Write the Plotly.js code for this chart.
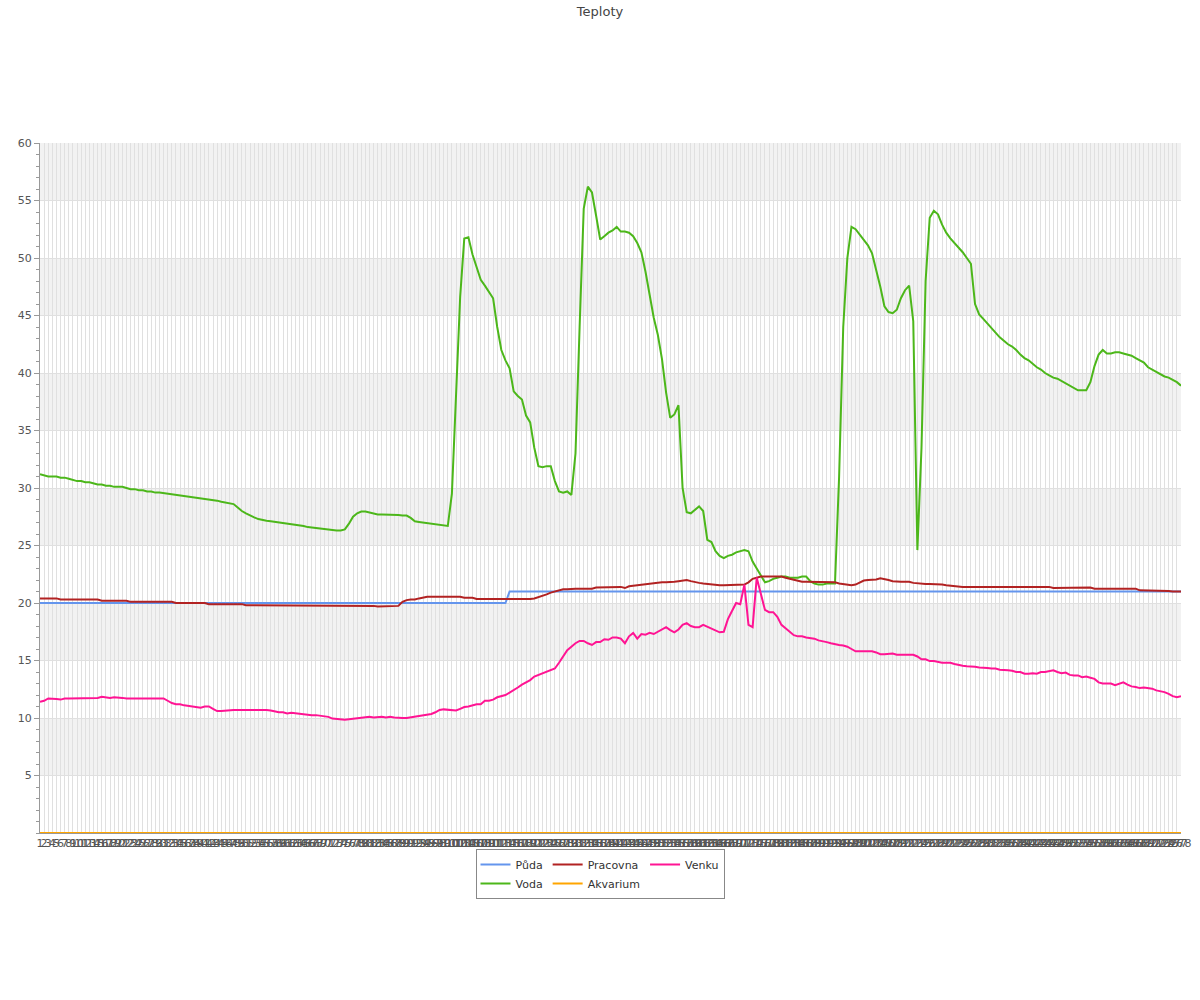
<!DOCTYPE html>
<html>
<head>
<meta charset="utf-8">
<script src="https://cdn.plot.ly/plotly-3.0.1.min.js"></script>
<style>html,body{margin:0;padding:0;background:#fff;}#chart{width:1200px;height:1000px;}</style>
</head>
<body>
<div id="chart"></div>
<script>
const chartTitle = 'Teploty';
const seriesNames = ['Půda', 'Voda', 'Pracovna', 'Akvarium', 'Venku'];
const seriesColors = ['#6495ED', '#4CB71A', '#B22222', '#FFA500', '#FF1493'];

const hours = [
1,2,3,4,5,6,7,8,9,10,11,12,13,14,15,16,17,18,19,20,21,22,23,24,25,26,27,28,29,30,
31,32,33,34,35,36,37,38,39,40,41,42,43,44,45,46,47,48,49,50,51,52,53,54,55,56,57,58,59,60,
61,62,63,64,65,66,67,68,69,70,71,72,73,74,75,76,77,78,79,80,81,82,83,84,85,86,87,88,89,90,
91,92,93,94,95,96,97,98,99,100,101,102,103,104,105,106,107,108,109,110,111,112,113,114,115,116,117,118,119,120,
121,122,123,124,125,126,127,128,129,130,131,132,133,134,135,136,137,138,139,140,141,142,143,144,145,146,147,148,149,150,
151,152,153,154,155,156,157,158,159,160,161,162,163,164,165,166,167,168,169,170,171,172,173,174,175,176,177,178,179,180,
181,182,183,184,185,186,187,188,189,190,191,192,193,194,195,196,197,198,199,200,201,202,203,204,205,206,207,208,209,210,
211,212,213,214,215,216,217,218,219,220,221,222,223,224,225,226,227,228,229,230,231,232,233,234,235,236,237,238,239,240,
241,242,243,244,245,246,247,248,249,250,251,252,253,254,255,256,257,258,259,260,261,262,263,264,265,266,267,268,269,270,
271,272,273,274,275,276,277,278];

const puda = [
20,20,20,20,20,20,20,20,20,20,20,20,20,20,20,20,20,20,20,20,20,20,20,20,20,20,20,20,20,20,
20,20,20,20,20,20,20,20,20,20,20,20,20,20,20,20,20,20,20,20,20,20,20,20,20,20,20,20,20,20,
20,20,20,20,20,20,20,20,20,20,20,20,20,20,20,20,20,20,20,20,20,20,20,20,20,20,20,20,20,20,
20,20,20,20,20,20,20,20,20,20,20,20,20,20,20,20,20,20,20,20,20,20,20,20,
21,21,21,21,21,21,21,21,21,21,21,21,21,21,21,21,21,21,21,21,21,21,21,21,21,21,21,21,21,21,
21,21,21,21,21,21,21,21,21,21,21,21,21,21,21,21,21,21,21,21,21,21,21,21,21,21,21,21,21,21,
21,21,21,21,21,21,21,21,21,21,21,21,21,21,21,21,21,21,21,21,21,21,21,21,21,21,21,21,21,21,
21,21,21,21,21,21,21,21,21,21,21,21,21,21,21,21,21,21,21,21,21,21,21,21,21,21,21,21,21,21,
21,21,21,21,21,21,21,21,21,21,21,21,21,21,21,21,21,21,21,21,21,21,21,21,21,21,21,21,21,21,
21,21,21,21,21,21,21,21,21,21,21,21,21,21];

const voda = [
31.2,31.1,31.0,31.0,31.0,30.9,30.9,30.8,30.7,30.6,
30.6,30.5,30.5,30.4,30.3,30.3,30.2,30.2,30.1,30.1,
30.1,30.0,29.9,29.9,29.8,29.8,29.7,29.7,29.6,29.6,
29.55,29.5,29.45,29.4,29.35,29.3,29.3,29.2,29.2,29.1,
29.05,29.0,28.95,28.9,28.8,28.75,28.7,28.6,28.3,28.0,
27.8,27.6,27.45,27.3,27.2,27.15,27.1,27.05,27.0,27.0,
26.95,26.9,26.85,26.8,26.7,26.6,26.55,26.5,26.5,26.45,
26.4,26.35,26.3,26.3,26.4,26.9,27.5,27.8,27.95,27.95,
27.85,27.75,27.7,27.7,27.7,27.7,27.7,27.65,27.6,27.6,
27.4,27.1,27.05,27.0,27.0,26.9,26.9,26.8,26.8,26.7,
29.5,38.0,46.6,51.7,51.8,50.3,49.2,48.1,47.6,47.1,
46.5,44.0,42.0,41.1,40.4,38.4,38.0,37.7,36.3,35.7,
33.5,31.9,31.8,31.9,31.9,30.6,29.7,29.6,29.7,29.4,
33.0,44.0,54.3,56.2,55.7,53.7,51.6,51.9,52.2,52.4,
52.7,52.3,52.3,52.2,51.9,51.3,50.5,48.8,46.8,44.8,
43.3,41.2,38.3,36.1,36.4,37.2,30.0,27.9,27.8,28.1,
28.4,28.0,25.5,25.3,24.5,24.1,23.9,24.1,24.2,24.4,
24.5,24.6,24.5,23.6,23.0,22.4,21.8,21.9,22.1,22.2,
22.3,22.3,22.2,22.2,22.2,22.3,22.3,21.9,21.7,21.6,
21.6,21.7,21.7,21.7,31.0,44.0,50.0,52.7,52.5,52.0,
51.5,51.1,50.4,49.0,47.5,45.8,45.3,45.2,45.5,46.5,
47.2,47.6,44.5,24.6,33.5,48.0,53.5,54.1,53.8,52.9,
52.2,51.7,51.3,50.9,50.5,50.0,49.5,46.0,45.1,44.7,
44.3,43.9,43.5,43.1,42.8,42.5,42.3,42.0,41.6,41.3,
41.1,40.8,40.5,40.3,40.0,39.8,39.6,39.5,39.3,39.1,
38.9,38.7,38.5,38.5,38.5,39.2,40.6,41.6,42.0,41.7,
41.7,41.8,41.8,41.7,41.6,41.5,41.3,41.1,40.9,40.5,
40.3,40.1,39.9,39.7,39.6,39.4,39.2,38.9];

const pracovna = [
20.4,20.4,20.4,20.4,20.4,20.3,20.3,20.3,20.3,20.3,
20.3,20.3,20.3,20.3,20.3,20.2,20.2,20.2,20.2,20.2,
20.2,20.2,20.1,20.1,20.1,20.1,20.1,20.1,20.1,20.1,
20.1,20.1,20.1,20.0,20.0,20.0,20.0,20.0,20.0,20.0,
20.0,19.9,19.9,19.9,19.9,19.9,19.9,19.9,19.9,19.9,
19.8,19.8,19.8,19.8,19.8,19.8,19.8,19.8,19.8,19.8,
19.8,19.8,19.8,19.8,19.8,19.8,19.8,19.8,19.8,19.8,
19.8,19.75,19.75,19.75,19.75,19.75,19.75,19.75,19.75,19.75,
19.75,19.75,19.7,19.7,19.7,19.7,19.7,19.75,20.1,20.25,
20.3,20.3,20.4,20.5,20.55,20.55,20.55,20.55,20.55,20.55,
20.55,20.55,20.55,20.45,20.45,20.45,20.35,20.35,20.3,20.3,
20.3,20.3,20.3,20.3,20.3,20.3,20.3,20.3,20.3,20.35,
20.4,20.5,20.6,20.75,20.9,21.0,21.05,21.2,21.2,21.25,
21.25,21.25,21.25,21.25,21.25,21.35,21.35,21.35,21.35,21.35,
21.35,21.4,21.3,21.45,21.5,21.55,21.6,21.6,21.65,21.7,
21.75,21.8,21.8,21.8,21.85,21.9,21.95,22.0,21.9,21.8,
21.75,21.7,21.65,21.6,21.55,21.55,21.55,21.55,21.55,21.55,
21.6,21.6,21.8,22.1,22.2,22.3,22.3,22.3,22.3,22.3,
22.3,22.2,22.1,22.0,21.9,21.85,21.85,21.85,21.85,21.85,
21.85,21.85,21.85,21.8,21.7,21.65,21.6,21.55,21.6,21.8,
21.95,22.0,22.0,22.05,22.15,22.1,22.0,21.9,21.85,21.85,
21.85,21.85,21.75,21.7,21.65,21.65,21.65,21.65,21.65,21.6,
21.55,21.5,21.5,21.45,21.4,21.4,21.4,21.4,21.4,21.4,
21.4,21.4,21.4,21.4,21.4,21.4,21.4,21.4,21.4,21.4,
21.4,21.4,21.4,21.4,21.4,21.4,21.3,21.3,21.3,21.3,
21.3,21.3,21.3,21.35,21.35,21.35,21.25,21.25,21.25,21.25,
21.25,21.25,21.25,21.25,21.25,21.25,21.25,21.1,21.1,21.1,
21.1,21.1,21.05,21.05,21.05,21.0,21.0,21.0];

const akvarium = [
0,0,0,0,0,0,0,0,0,0,0,0,0,0,0,0,0,0,0,0,0,0,0,0,0,0,0,0,0,0,
0,0,0,0,0,0,0,0,0,0,0,0,0,0,0,0,0,0,0,0,0,0,0,0,0,0,0,0,0,0,
0,0,0,0,0,0,0,0,0,0,0,0,0,0,0,0,0,0,0,0,0,0,0,0,0,0,0,0,0,0,
0,0,0,0,0,0,0,0,0,0,0,0,0,0,0,0,0,0,0,0,0,0,0,0,0,0,0,0,0,0,
0,0,0,0,0,0,0,0,0,0,0,0,0,0,0,0,0,0,0,0,0,0,0,0,0,0,0,0,0,0,
0,0,0,0,0,0,0,0,0,0,0,0,0,0,0,0,0,0,0,0,0,0,0,0,0,0,0,0,0,0,
0,0,0,0,0,0,0,0,0,0,0,0,0,0,0,0,0,0,0,0,0,0,0,0,0,0,0,0,0,0,
0,0,0,0,0,0,0,0,0,0,0,0,0,0,0,0,0,0,0,0,0,0,0,0,0,0,0,0,0,0,
0,0,0,0,0,0,0,0,0,0,0,0,0,0,0,0,0,0,0,0,0,0,0,0,0,0,0,0,0,0,
0,0,0,0,0,0,0,0];

const venku = [
11.4,11.5,11.7,11.7,11.65,11.6,11.7,11.7,11.7,11.7,
11.7,11.7,11.7,11.7,11.75,11.85,11.8,11.75,11.8,11.8,
11.75,11.7,11.7,11.75,11.75,11.7,11.7,11.7,11.7,11.7,
11.7,11.5,11.3,11.2,11.2,11.1,11.05,11.0,10.95,10.9,
11.0,11.0,10.8,10.6,10.6,10.65,10.7,10.7,10.7,10.7,
10.7,10.75,10.7,10.7,10.7,10.7,10.65,10.55,10.5,10.5,
10.4,10.45,10.4,10.35,10.35,10.3,10.25,10.25,10.2,10.15,
10.1,9.95,9.9,9.85,9.85,9.9,9.95,10.0,10.0,10.05,
10.1,10.05,10.1,10.1,10.05,10.1,10.05,10.0,10.0,10.0,
10.05,10.1,10.15,10.2,10.3,10.35,10.5,10.7,10.75,10.7,
10.7,10.65,10.8,10.95,11.0,11.1,11.2,11.2,11.5,11.5,
11.6,11.8,11.9,12.0,12.2,12.4,12.65,12.9,13.1,13.3,
13.6,13.75,13.9,14.0,14.2,14.3,14.8,15.4,15.9,16.2,
16.5,16.7,16.7,16.5,16.35,16.6,16.6,16.85,16.8,17.0,
17.0,16.9,16.5,17.1,17.4,16.9,17.3,17.25,17.4,17.3,
17.5,17.75,17.9,17.65,17.45,17.7,18.1,18.25,18.0,17.9,
17.9,18.1,17.95,17.75,17.65,17.45,17.5,18.6,19.3,20.0,
19.9,21.6,18.1,17.9,22.2,20.8,19.4,19.2,19.2,18.8,
18.1,17.8,17.5,17.2,17.1,17.1,17.0,16.95,16.9,16.75,
16.7,16.6,16.5,16.4,16.35,16.3,16.2,16.0,15.8,15.8,
15.8,15.8,15.8,15.7,15.55,15.55,15.6,15.6,15.5,15.5,
15.5,15.5,15.5,15.35,15.1,15.1,14.95,14.95,14.85,14.8,
14.8,14.8,14.7,14.6,14.55,14.5,14.5,14.45,14.4,14.4,
14.35,14.3,14.3,14.2,14.2,14.15,14.1,14.0,14.0,13.85,
13.85,13.9,13.85,14.0,14.0,14.1,14.15,14.0,13.9,13.95,
13.75,13.7,13.7,13.55,13.6,13.5,13.4,13.1,13.0,13.0,
13.0,12.85,13.0,13.1,12.9,12.75,12.7,12.6,12.65,12.6,
12.55,12.4,12.35,12.25,12.1,11.9,11.8,11.9];

const yTickVals = [5,10,15,20,25,30,35,40,45,50,55,60];
const bandStarts = [5,15,25,35,45,55];

const seriesData = [puda, voda, pracovna, akvarium, venku];
const groups = ['g1','g1','g2','g2','g3'];

const traces = seriesData.map((vals, k) => ({
  type: 'scatter',
  mode: 'lines',
  x: hours,
  y: vals,
  name: seriesNames[k],
  legendgroup: groups[k],
  line: {color: seriesColors[k], width: 2},
  hoverinfo: 'skip'
}));

const shapes = bandStarts.map(b => ({
  type: 'rect', layer: 'below', xref: 'paper', yref: 'y',
  x0: 0, x1: 1, y0: b, y1: b + 5,
  fillcolor: '#f2f2f2', line: {width: 0}
}));

const layout = {
  width: 1200, height: 1000,
  paper_bgcolor: '#ffffff', plot_bgcolor: '#ffffff',
  margin: {l: 40, r: 19, t: 143, b: 167, pad: 0},
  font: {family: 'DejaVu Sans, sans-serif', size: 11, color: '#555'},
  title: {text: chartTitle, font: {family: 'DejaVu Sans, sans-serif', size: 13, color: '#444'},
          x: 0.5, xref: 'container', xanchor: 'center', y: 0.989, yref: 'container', yanchor: 'middle'},
  xaxis: {
    type: 'linear', range: [1, hours.length], tickmode: 'linear', tick0: 1, dtick: 1,
    tickangle: 0, showgrid: true, gridcolor: '#e0e0e0', gridwidth: 1,
    zeroline: false, showline: true, linecolor: '#999', ticks: '',
    tickfont: {size: 11, color: '#555'}, automargin: false, fixedrange: true, layer: 'below traces'
  },
  yaxis: {
    range: [0, 60], tickmode: 'array', tickvals: yTickVals,
    showgrid: true, gridcolor: '#e0e0e0', gridwidth: 1, zeroline: false,
    showline: true, linecolor: '#999', ticks: 'outside', ticklen: 5, tickcolor: '#999',
    minor: {tick0: 0, dtick: 1, ticks: 'outside', ticklen: 3, tickcolor: '#999', showgrid: false},
    tickfont: {size: 11, color: '#555'}, automargin: false, fixedrange: true, layer: 'below traces'
  },
  showlegend: true,
  legend: {
    orientation: 'h', traceorder: 'grouped',
    xref: 'container', x: 0.5, xanchor: 'center',
    yref: 'container', y: 0.151, yanchor: 'top',
    bgcolor: '#ffffff', bordercolor: '#888', borderwidth: 1,
    font: {family: 'DejaVu Sans, sans-serif', size: 11, color: '#333'},
    itemwidth: 30, tracegroupgap: 4
  },
  shapes: shapes
};

Plotly.newPlot('chart', traces, layout, {staticPlot: true, displayModeBar: false});
</script>
</body>
</html>
